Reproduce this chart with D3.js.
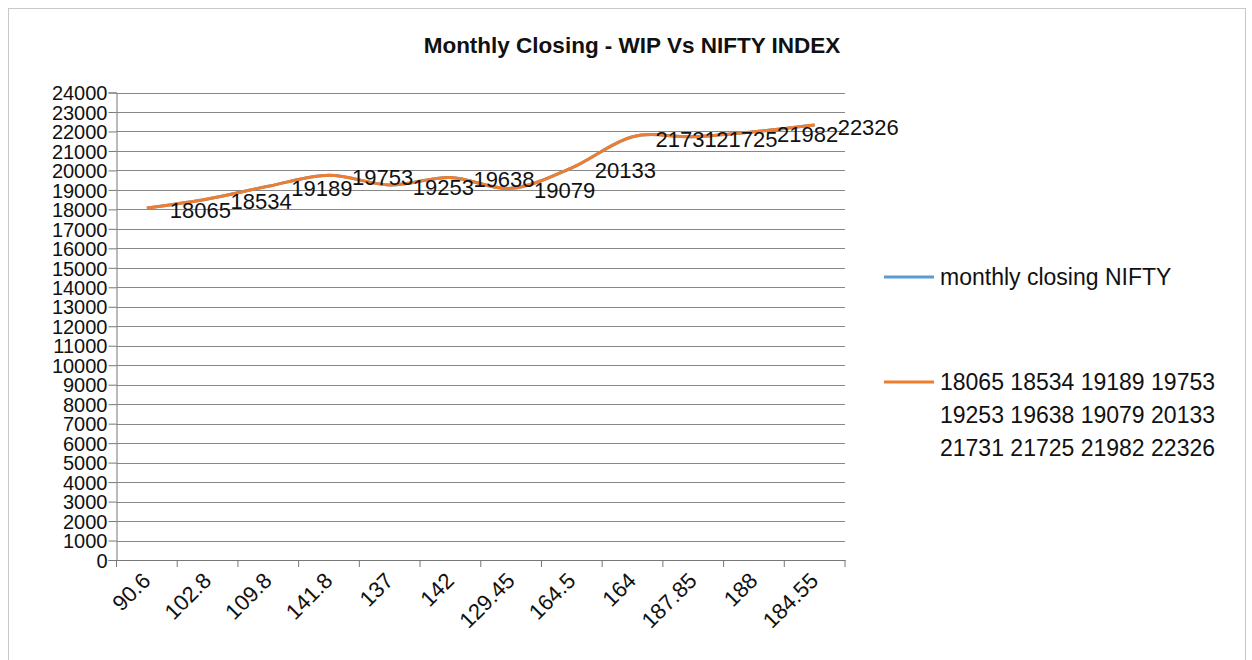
<!DOCTYPE html>
<html>

<head>
  <meta charset="utf-8">
  <title>Monthly Closing - WIP Vs NIFTY INDEX</title>
  <style>
    body { margin: 0; background: #fff; }
    text { font-family: 'Liberation Sans', Arial, sans-serif; fill: #111; }
  </style>
</head>

<body>
  <div id='chart'></div>

  <script src="https://d3js.org/d3.v7.min.js"></script>
  <script>
    // data
    let categories = ['90.6', '102.8', '109.8', '141.8', '137', '142', '129.45', '164.5', '164', '187.85', '188', '184.55'];
    let closingValues = [18065, 18534, 19189, 19753, 19253, 19638, 19079, 20133, 21731, 21725, 21982, 22326];
    let niftyValues = [18065, 18534, 19189, 19753, 19253, 19638, 19079, 20133, 21731, 21725, 21982, 22326];
    let yTicks = d3.range(0, 24001, 1000);
    let seriesNames = ['monthly closing NIFTY', '18065 18534 19189 19753 19253 19638 19079 20133 21731 21725 21982 22326'];

    let svgWidth = 1252;
    let svgHeight = 660;
    let plot = { left: 116.5, right: 845, top: 92.5, bottom: 560 };

    function translate(x, y) {
      return 'translate(' + x + ',' + y + ')';
    }

    let svg = d3.select('#chart').append('svg')
      .attr('width', svgWidth)
      .attr('height', svgHeight);

    // outer chart border
    svg.append('rect')
      .attr('x', 8.5).attr('y', 8.5)
      .attr('width', 1237).attr('height', 660)
      .attr('fill', 'none')
      .attr('stroke', '#c8c8c8');

    svg.append('text')
      .attr('x', 632).attr('y', 53)
      .attr('text-anchor', 'middle')
      .style('font-size', '22.5px')
      .style('font-weight', 'bold')
      .text('Monthly Closing - WIP Vs NIFTY INDEX');

    let x = d3.scaleBand()
      .domain(d3.range(categories.length))
      .range([plot.left, plot.right]);

    let y = d3.scaleLinear()
      .domain([0, 24000])
      .range([plot.bottom, plot.top]);

    // gridlines
    svg.append('g')
      .selectAll('line')
      .data(yTicks.filter(d => d > 0))
      .enter()
      .append('line')
      .attr('x1', plot.left).attr('x2', plot.right)
      .attr('y1', d => Math.round(y(d)) + 0.5).attr('y2', d => Math.round(y(d)) + 0.5)
      .attr('stroke', '#888')
      .attr('stroke-width', 1);

    // y axis
    let yAxis = svg.append('g')
      .attr('transform', translate(plot.left, 0))
      .call(d3.axisLeft(y).tickValues(yTicks).tickSize(8).tickPadding(1).tickFormat(d3.format('d')));
    yAxis.selectAll('line, path').attr('stroke', '#777');
    yAxis.selectAll('text')
      .style('font-size', '20px')
      .style('font-family', "'Liberation Sans', Arial, sans-serif")
      .attr('fill', '#111')
      .attr('dy', '0.36em');

    // x axis
    let xAxis = svg.append('g')
      .attr('transform', translate(0, plot.bottom))
      .call(d3.axisBottom(x).tickSize(0).tickFormat(''));
    xAxis.select('path').attr('stroke', '#777');

    svg.append('g')
      .selectAll('line')
      .data(d3.range(categories.length + 1))
      .enter()
      .append('line')
      .attr('x1', i => i < categories.length ? x(i) : plot.right)
      .attr('x2', i => i < categories.length ? x(i) : plot.right)
      .attr('y1', plot.bottom).attr('y2', plot.bottom + 7)
      .attr('stroke', '#777');

    svg.append('g')
      .selectAll('text')
      .data(categories)
      .enter()
      .append('text')
      .attr('transform', (d, i) => translate(x(i) + x.bandwidth() / 2 + 5, 582) + ' rotate(-45)')
      .attr('text-anchor', 'end')
      .style('font-size', '22px')
      .text(d => d);

    // lines
    let line = d3.line()
      .x((d, i) => x(i) + x.bandwidth() / 2)
      .y(d => y(d))
      .curve(d3.curveCardinal.tension(0));

    svg.append('path')
      .datum(niftyValues)
      .attr('d', line)
      .attr('fill', 'none')
      .attr('stroke', '#5b9bd5')
      .attr('stroke-width', 3);

    svg.append('path')
      .datum(closingValues)
      .attr('d', line)
      .attr('fill', 'none')
      .attr('stroke', '#ed7d31')
      .attr('stroke-width', 3);

    // data labels, placed right of each point
    svg.append('g')
      .selectAll('text')
      .data(closingValues)
      .enter()
      .append('text')
      .attr('x', (d, i) => x(i) + x.bandwidth() / 2 + 23)
      .attr('y', d => y(d) + 2)
      .attr('dy', '0.36em')
      .style('font-size', '22px')
      .text(d => d);

    // legend
    let legend = svg.append('g');
    legend.append('line')
      .attr('x1', 884).attr('x2', 934)
      .attr('y1', 277).attr('y2', 277)
      .attr('stroke', '#5b9bd5').attr('stroke-width', 3);
    legend.append('text')
      .attr('x', 940).attr('y', 277).attr('dy', '0.36em')
      .style('font-size', '23px')
      .text(seriesNames[0]);

    legend.append('line')
      .attr('x1', 884).attr('x2', 934)
      .attr('y1', 382).attr('y2', 382)
      .attr('stroke', '#ed7d31').attr('stroke-width', 3);

    let words = seriesNames[1].split(' ');
    let rows = [words.slice(0, 4), words.slice(4, 8), words.slice(8)];
    legend.append('g')
      .selectAll('text')
      .data(rows)
      .enter()
      .append('text')
      .attr('x', 940)
      .attr('y', (d, i) => 382 + i * 33)
      .attr('dy', '0.36em')
      .style('font-size', '23px')
      .text(d => d.join(' '));
  </script>
</body>

</html>
